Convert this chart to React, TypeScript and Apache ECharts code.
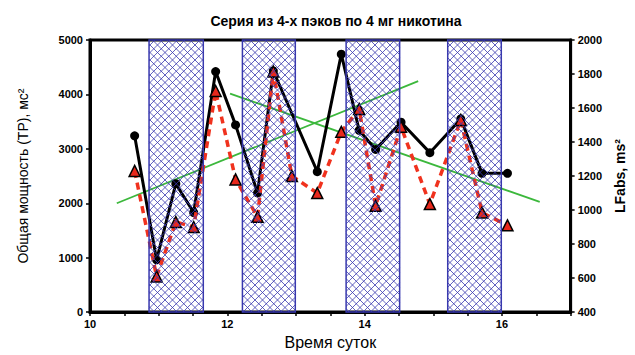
import React, { useEffect, useRef } from "react";
import * as echarts from "echarts";

// ---- data ----
const times = [10.65, 10.97, 11.25, 11.51, 11.83, 12.12, 12.44, 12.67, 12.94, 13.31, 13.66, 13.92, 14.16, 14.53, 14.95, 15.4, 15.71, 16.08];
// Total power (left axis), null = no point at that time
const totalPower = [3240, 960, 2360, 1830, 4420, 3440, 2190, 4430, null, 2580, 4740, 3340, 2990, 3490, 2930, 3550, 2550, 2550];
// LFabs (right axis)
const lfAbs = [1230, 610, 930, 900, 1700, 1180, 960, 1815, 1200, 1100, 1460, 1595, 1025, 1490, 1035, 1530, 985, 910];
// Nicotine pack periods (hatched bands)
const bandStart = [10.86, 12.22, 13.73, 15.21];
const bandEnd = [11.65, 12.99, 14.51, 15.99];
// Trend lines (left-axis units)
const trendUp = [[10.39, 2000], [14.78, 4245]];
const trendDown = [[12.04, 4015], [16.55, 2025]];
// Axes
const xMin = 10, xMax = 17, xStep = 0.5;
const xLabelTicks = [10, 12, 14, 16];
const yLeftMin = 0, yLeftMax = 5000, yLeftStep = 1000;
const yRightMin = 400, yRightMax = 2000, yRightStep = 200;

const FONT = "'Liberation Sans', Arial, sans-serif";
const HATCH = "#3838ae";

export default function App() {
  const ref = useRef<HTMLDivElement>(null);
  useEffect(() => {
    if (!ref.current) return;
    const chart = echarts.init(ref.current, undefined, { renderer: "svg" });

    const tpData = times
      .map((t, i) => [t, totalPower[i]])
      .filter((p) => p[1] !== null);
    const lfData = times.map((t, i) => [t, lfAbs[i]]);
    const bandData = bandStart.map((s, i) => [s, bandEnd[i]]);

    const tickLabel = {
      margin: 7,
      fontFamily: FONT,
      fontSize: 11,
      fontWeight: "bold",
      color: "#000",
      formatter: (v: number) => String(v),
    };

    chart.setOption({
      animation: false,
      textStyle: { fontFamily: FONT },
      title: {
        text: "Серия из 4-х пэков по 4 мг никотина",
        left: 331,
        textAlign: "center",
        top: 9,
        textStyle: { fontFamily: FONT, fontSize: 14, fontWeight: "bold", color: "#000" },
      },
      grid: {
        left: 90,
        right: 63,
        top: 40,
        bottom: 39,
        show: true,
        borderColor: "#000",
        borderWidth: 3,
        backgroundColor: "transparent",
      },
      xAxis: {
        type: "value",
        min: xMin,
        max: xMax,
        interval: xStep,
        name: "Время суток",
        nameLocation: "middle",
        nameGap: 20,
        nameTextStyle: { fontFamily: FONT, fontSize: 16, color: "#000" },
        axisLine: { lineStyle: { color: "#000", width: 3 } },
        axisTick: { length: 4, lineStyle: { color: "#000", width: 1.5 } },
        axisLabel: {
          margin: 6,
          fontFamily: FONT,
          fontSize: 11,
          fontWeight: "bold",
          color: "#000",
          formatter: (v: number) => (xLabelTicks.includes(v) ? String(v) : ""),
        },
        splitLine: { show: false },
      },
      yAxis: [
        {
          type: "value",
          min: yLeftMin,
          max: yLeftMax,
          interval: yLeftStep,
          name: "Общая мощность (TP), мс²",
          nameLocation: "middle",
          nameGap: 60,
          nameRotate: 90,
          nameTextStyle: { fontFamily: FONT, fontSize: 14, color: "#000" },
          axisLine: { show: true, lineStyle: { color: "#000", width: 3 } },
          axisTick: { show: true, length: 4, lineStyle: { color: "#000", width: 1.5 } },
          axisLabel: tickLabel,
          splitLine: { show: false },
        },
        {
          type: "value",
          position: "right",
          min: yRightMin,
          max: yRightMax,
          interval: yRightStep,
          name: "LFabs, ms²",
          nameLocation: "middle",
          nameGap: 42,
          nameRotate: 90,
          nameTextStyle: { fontFamily: FONT, fontSize: 14, fontWeight: "bold", color: "#000" },
          axisLine: { show: true, lineStyle: { color: "#000", width: 3 } },
          axisTick: { show: true, length: 4, lineStyle: { color: "#000", width: 1.5 } },
          axisLabel: tickLabel,
          splitLine: { show: false },
        },
      ],
      series: [
        {
          name: "TP",
          type: "line",
          yAxisIndex: 0,
          data: tpData,
          symbol: "circle",
          symbolSize: 9,
          lineStyle: { color: "#000", width: 3 },
          itemStyle: { color: "#000" },
          z: 3,
        },
        {
          name: "LFabs",
          type: "line",
          yAxisIndex: 1,
          data: lfData,
          symbol: "triangle",
          symbolSize: 11,
          lineStyle: { color: "#f0321e", width: 3.5, type: [7, 5] },
          itemStyle: { color: "#e8281c", borderColor: "#000", borderWidth: 1.5 },
          z: 4,
        },
        {
          name: "trendUp",
          type: "line",
          yAxisIndex: 0,
          data: trendUp,
          symbol: "none",
          lineStyle: { color: "#3cb83c", width: 1.8 },
          z: 2,
        },
        {
          name: "trendDown",
          type: "line",
          yAxisIndex: 0,
          data: trendDown,
          symbol: "none",
          lineStyle: { color: "#3cb83c", width: 1.8 },
          z: 2,
        },
        {
          name: "packs",
          type: "custom",
          yAxisIndex: 0,
          data: bandData,
          encode: { x: [0, 1] },
          z: 10,
          silent: true,
          renderItem: (_params: any, api: any) => {
            const p0 = api.coord([api.value(0), yLeftMax]);
            const p1 = api.coord([api.value(1), yLeftMin]);
            const x0 = p0[0], y0 = p0[1], x1 = p1[0], y1 = p1[1];
            const step = 7.5;
            const children: any[] = [];
            const st = { stroke: HATCH, lineWidth: 0.8 };
            for (let c = Math.ceil((x0 + y0) / step) * step; c <= x1 + y1; c += step) {
              const lo = Math.max(x0, c - y1);
              const hi = Math.min(x1, c - y0);
              if (hi > lo) children.push({ type: "line", shape: { x1: lo, y1: c - lo, x2: hi, y2: c - hi }, style: st });
            }
            for (let c = Math.ceil((x0 - y1) / step) * step; c <= x1 - y0; c += step) {
              const lo = Math.max(x0, c + y0);
              const hi = Math.min(x1, c + y1);
              if (hi > lo) children.push({ type: "line", shape: { x1: lo, y1: lo - c, x2: hi, y2: hi - c }, style: st });
            }
            children.push({
              type: "rect",
              shape: { x: x0, y: y0, width: x1 - x0, height: y1 - y0 },
              style: { fill: "none", stroke: HATCH, lineWidth: 1.5 },
            });
            return { type: "group", children };
          },
        },
      ],
    });
    return () => chart.dispose();
  }, []);
  return (
    <div
      ref={ref}
      style={{ position: "fixed", left: 0, top: 0, width: 635, height: 355, background: "#fff" }}
    />
  );
}
